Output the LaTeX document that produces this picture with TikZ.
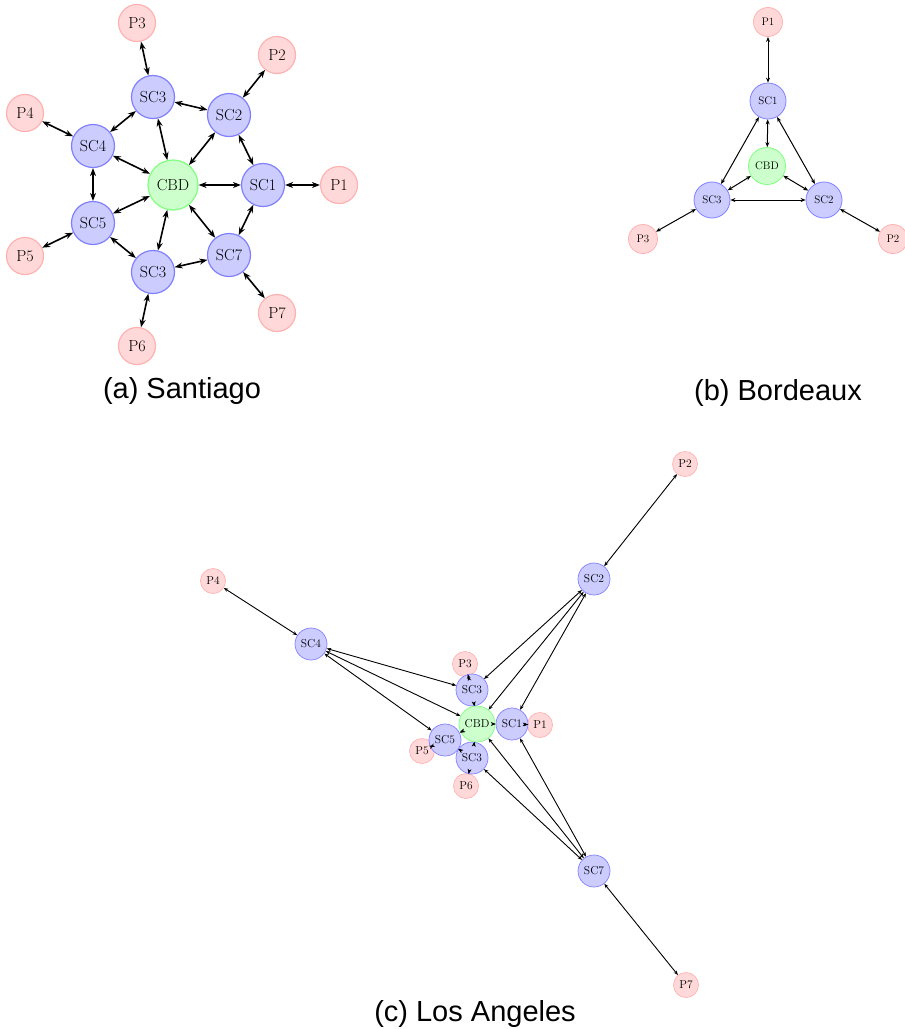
\documentclass[tikz,border=0pt]{standalone}
\usepackage{fontspec}
\newfontfamily\capfont{Liberation Sans}
\usetikzlibrary{arrows.meta}

\begin{document}
\begin{tikzpicture}[x=1pt,y=-1pt,
  % node kinds
  sc/.style={circle, inner sep=0pt, draw=blue!50, fill=blue!20},
  cbd/.style={circle, inner sep=0pt, draw=green!50, fill=green!20},
  pn/.style={circle, inner sep=0pt, draw=red!30, fill=red!15},
  link/.style={<->},
  caption/.style={font=\capfont\fontsize{29}{32}\selectfont, anchor=base, inner sep=0pt},
  % panel (a)
  bigsc/.style={sc, minimum size=43pt, line width=1.2pt, font=\fontsize{16}{18}\selectfont},
  bigcbd/.style={cbd, minimum size=50pt, line width=1.2pt, font=\fontsize{16}{18}\selectfont},
  bigp/.style={pn, minimum size=37pt, line width=1.2pt, font=\fontsize{16}{18}\selectfont},
  % panel (b)
  midsc/.style={sc, minimum size=36pt, line width=0.8pt, font=\fontsize{11}{12}\selectfont},
  midcbd/.style={cbd, minimum size=37pt, line width=0.8pt, font=\fontsize{11}{12}\selectfont},
  midp/.style={pn, minimum size=29pt, line width=0.8pt, font=\fontsize{11}{12}\selectfont},
  % panel (c)
  smsc/.style={sc, minimum size=32pt, line width=0.7pt, font=\fontsize{11.5}{12}\selectfont},
  smcbd/.style={cbd, minimum size=36pt, line width=0.7pt, font=\fontsize{11.5}{12}\selectfont},
  smp/.style={pn, minimum size=25pt, line width=0.7pt, font=\fontsize{11.5}{12}\selectfont}
]
\path[use as bounding box] (0,0) rectangle (905,1029);

% ---------------- (a) Santiago ----------------
\begin{scope}[>={Stealth[length=8pt,width=6pt]}, line width=1.6pt]
  \node[bigp] (a-p1) at (339,185) {P1};
  \node[bigp] (a-p2) at (277,55) {P2};
  \node[bigp] (a-p3) at (137,23) {P3};
  \node[bigp] (a-p4) at (25,113) {P4};
  \node[bigp] (a-p5) at (25,256) {P5};
  \node[bigp] (a-p6) at (137,346) {P6};
  \node[bigp] (a-p7) at (277,313) {P7};
  \node[bigsc] (a-sc1) at (263,185) {SC1};
  \node[bigsc] (a-sc2) at (229,115) {SC2};
  \node[bigsc] (a-sc3t) at (153,97) {SC3};
  \node[bigsc] (a-sc4) at (93,146) {SC4};
  \node[bigsc] (a-sc5) at (93,223) {SC5};
  \node[bigsc] (a-sc3b) at (153,272) {SC3};
  \node[bigsc] (a-sc7) at (229,255) {SC7};
  \node[bigcbd] (a-cbd) at (173,185) {CBD};
  \foreach \u/\v in {p1/sc1, p2/sc2, p3/sc3t, p4/sc4, p5/sc5, p6/sc3b, p7/sc7,
                     sc1/sc2, sc2/sc3t, sc3t/sc4, sc4/sc5, sc5/sc3b, sc3b/sc7, sc7/sc1,
                     cbd/sc1, cbd/sc2, cbd/sc3t, cbd/sc4, cbd/sc5, cbd/sc3b, cbd/sc7}
    \draw[link] (a-\u) -- (a-\v);
\end{scope}
\node[caption] (cap-a) at (182,398) {(a) Santiago};

% ---------------- (b) Bordeaux ----------------
\begin{scope}[>={Stealth[length=5pt,width=4pt]}, line width=1pt]
  \node[midp] (b-p1) at (768,22) {P1};
  \node[midp] (b-p2) at (893,239) {P2};
  \node[midp] (b-p3) at (643,239) {P3};
  \node[midsc] (b-sc1) at (768,101) {SC1};
  \node[midsc] (b-sc2) at (824,200) {SC2};
  \node[midsc] (b-sc3) at (712,200) {SC3};
  \node[midcbd] (b-cbd) at (767,166) {CBD};
  \foreach \u/\v in {p1/sc1, p2/sc2, p3/sc3, sc1/sc2, sc1/sc3, sc3/sc2,
                     cbd/sc1, cbd/sc2, cbd/sc3}
    \draw[link] (b-\u) -- (b-\v);
\end{scope}
\node[caption] (cap-b) at (778,400) {(b) Bordeaux};

% ---------------- (c) Los Angeles ----------------
\begin{scope}[>={Stealth[length=4.5pt,width=3.5pt]}, line width=0.9pt]
  \node[smp] (c-p1) at (540,725) {P1};
  \node[smp] (c-p2) at (685,464) {P2};
  \node[smp] (c-p3) at (465,664) {P3};
  \node[smp] (c-p4) at (213,581) {P4};
  \node[smp] (c-p5) at (422,751) {P5};
  \node[smp] (c-p6) at (466,786) {P6};
  \node[smp] (c-p7) at (686,985) {P7};
  \node[smsc] (c-sc2) at (594,579) {SC2};
  \node[smsc] (c-sc4) at (311,644) {SC4};
  \node[smsc] (c-sc7) at (594,871) {SC7};
  \node[smsc] (c-sc1) at (512,724) {SC1};
  \node[smsc] (c-sc3t) at (472,690) {SC3};
  \node[smsc] (c-sc5) at (445,740) {SC5};
  \node[smsc] (c-sc3b) at (472,758) {SC3};
  \node[smcbd] (c-cbd) at (477,724) {CBD};
  \foreach \u/\v in {p1/sc1, p2/sc2, p3/sc3t, p4/sc4, p5/sc5, p6/sc3b, p7/sc7,
                     sc1/sc2, sc2/sc3t, sc3t/sc4, sc4/sc5, sc5/sc3b, sc3b/sc7, sc7/sc1,
                     cbd/sc1, cbd/sc2, cbd/sc3t, cbd/sc4, cbd/sc5, cbd/sc3b, cbd/sc7}
    \draw[link] (c-\u) -- (c-\v);
\end{scope}
\node[caption] (cap-c) at (475,1021) {(c) Los Angeles};
\end{tikzpicture}
\end{document}
